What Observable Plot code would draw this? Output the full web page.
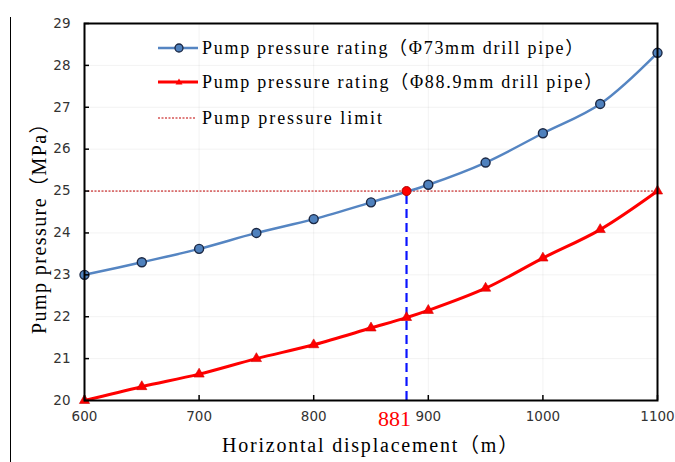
<!DOCTYPE html>
<html>
<head>
<meta charset="utf-8">
<script src="https://cdn.jsdelivr.net/npm/d3@7"></script>
<script src="https://cdn.jsdelivr.net/npm/@observablehq/plot@0.6"></script>
<style>
  html, body { margin: 0; padding: 0; background: #fff; }
  #wrap { position: relative; width: 675px; height: 462px; overflow: hidden; }
  #border { position: absolute; left: 10px; top: 17px; width: 0; height: 445px; border-left: 1.5px solid #000; }
  .title { position: absolute; font-family: "Liberation Serif", "Noto Sans CJK SC", serif; font-size: 20px; color: #000; white-space: nowrap; }
  #xtitle { left: 371px; top: 443px; transform: translate(-50%, -50%); }
  #ytitle { left: 37px; top: 223px; transform: translate(-50%, -50%) rotate(-90deg); }
  #legend { position: absolute; left: 150px; top: 32px; }
  .lg { position: absolute; left: 0; height: 22px; white-space: nowrap; font-family: "Liberation Serif", "Noto Sans CJK SC", serif; font-size: 18px; color: #000; }
  .lg svg { position: absolute; left: 0; top: 0; }
  .lg span { position: absolute; left: 52px; top: 0; line-height: 22px; }
</style>
</head>
<body>
<div id="wrap">
  <div id="border"></div>
  <div id="chart"></div>
  <div id="legend"></div>
  <div class="title" id="xtitle"></div>
  <div class="title" id="ytitle"></div>
</div>
<script>
// ---- data ----
const xValues = [600, 650, 700, 750, 800, 850, 900, 950, 1000, 1050, 1100];
const pressure73 = [23.0, 23.3, 23.62, 24.0, 24.33, 24.73, 25.15, 25.68, 26.38, 27.08, 28.3];
const xValues889 = [600, 650, 700, 750, 800, 850, 881, 900, 950, 1000, 1050, 1100];
const pressure889 = [20.0, 20.33, 20.63, 21.0, 21.33, 21.73, 21.98, 22.15, 22.68, 23.4, 24.08, 25.0];
const pressureLimit = 25;
const crossX = 881;
const yMin = 20;
const xTicks = [600, 700, 800, 900, 1000, 1100];
const yTicks = [20, 21, 22, 23, 24, 25, 26, 27, 28, 29];
const seriesNames = [
  "Pump pressure rating（Φ73mm drill pipe）",
  "Pump pressure rating（Φ88.9mm drill pipe）",
  "Pump pressure limit"
];
const xTitle = "Horizontal displacement（m）";
const yTitle = "Pump pressure（MPa）";

const blue = xValues.map((x, i) => ({x, y: pressure73[i]}));
const red = xValues889.map((x, i) => ({x, y: pressure889[i]}));

const tickFont = "DejaVu Sans, Verdana, sans-serif";

const chart = Plot.plot({
  width: 675,
  height: 462,
  marginLeft: 84,
  marginRight: 18,
  marginTop: 23,
  marginBottom: 62,
  style: {background: "transparent", fontFamily: tickFont},
  x: {domain: [600, 1100]},
  y: {domain: [20, 29]},
  marks: [
    Plot.gridX(xTicks, {stroke: "#000", strokeOpacity: 0.05}),
    Plot.gridY(yTicks, {stroke: "#000", strokeOpacity: 0.05}),
    Plot.ruleY([pressureLimit], {stroke: "#c00000", strokeWidth: 1, strokeDasharray: "2,1.5"}),
    Plot.ruleX([crossX], {y1: yMin, y2: pressureLimit, stroke: "#0a14ff", strokeWidth: 2.2, strokeDasharray: "9,5"}),
    Plot.line(red, {x: "x", y: "y", stroke: "#ff0000", strokeWidth: 3, curve: "catmull-rom"}),
    Plot.dot(red, {x: "x", y: "y", symbol: "triangle", r: 3.8, fill: "#ff0000", stroke: "#d00000", strokeWidth: 0.6}),
    Plot.line(blue, {x: "x", y: "y", stroke: "#5585c2", strokeWidth: 2.5, curve: "catmull-rom"}),
    Plot.dot(blue, {x: "x", y: "y", r: 4.5, fill: "#4f81bd", stroke: "#1b2844", strokeWidth: 1.4}),
    Plot.dot([{x: crossX, y: pressureLimit}], {x: "x", y: "y", r: 4.5, fill: "#ff0000", stroke: "#b00000", strokeWidth: 1}),
    Plot.frame({stroke: "#000", strokeWidth: 2}),
    Plot.axisX(xTicks, {anchor: "bottom", tickSize: -5, tickPadding: 16, fontSize: 13.5, fill: "#333", stroke: "#000", strokeWidth: 1.5, label: null, tickFormat: d => String(d)}),
    Plot.axisY(yTicks, {anchor: "left", tickSize: -5, tickPadding: 19, fontSize: 13.5, fill: "#333", stroke: "#000", strokeWidth: 1.5, label: null, tickFormat: d => String(d)}),
    Plot.text([crossX], {x: d => d, frameAnchor: "bottom", dy: 25, dx: -12, text: d => String(d), fill: "#ff0000", fontSize: 22, fontFamily: "Liberation Serif, serif"})
  ]
});
document.getElementById("chart").appendChild(chart);

// fit a text element to a target width via letter spacing
function fitWidth(el, target) {
  el.style.letterSpacing = "0px";
  const w = el.getBoundingClientRect().width;
  const n = [...el.textContent].length;
  el.style.letterSpacing = ((target - w) / n) + "px";
}

const xt = document.getElementById("xtitle");
xt.textContent = xTitle;
fitWidth(xt, 298);
const yt = document.getElementById("ytitle");
yt.textContent = yTitle;
yt.style.transform = "none";
fitWidth(yt, 222);
yt.style.transform = "translate(-50%, -50%) rotate(-90deg)";

// legend
const legend = document.getElementById("legend");
const legendTops = [5, 39, 75];
const legendWidths = [383, 402, 182];
const swatches = [
  `<svg width="50" height="22"><line x1="8" y1="11" x2="48" y2="11" stroke="#5585c2" stroke-width="2.5"/><circle cx="29" cy="11" r="4" fill="#4f81bd" stroke="#1b2844" stroke-width="1.3"/></svg>`,
  `<svg width="50" height="22"><line x1="8" y1="11" x2="48" y2="11" stroke="#ff0000" stroke-width="3"/><path d="M29,7.5 L32.5,13.5 L25.5,13.5 Z" fill="#ff0000"/></svg>`,
  `<svg width="50" height="22"><line x1="8" y1="11" x2="46" y2="11" stroke="#c00000" stroke-width="1" stroke-dasharray="2,1.5"/></svg>`
];
seriesNames.forEach((name, i) => {
  const row = document.createElement("div");
  row.className = "lg";
  row.style.top = legendTops[i] + "px";
  row.innerHTML = swatches[i] + `<span></span>`;
  const span = row.querySelector("span");
  span.textContent = name;
  legend.appendChild(row);
  fitWidth(span, legendWidths[i]);
});
</script>
</body>
</html>
